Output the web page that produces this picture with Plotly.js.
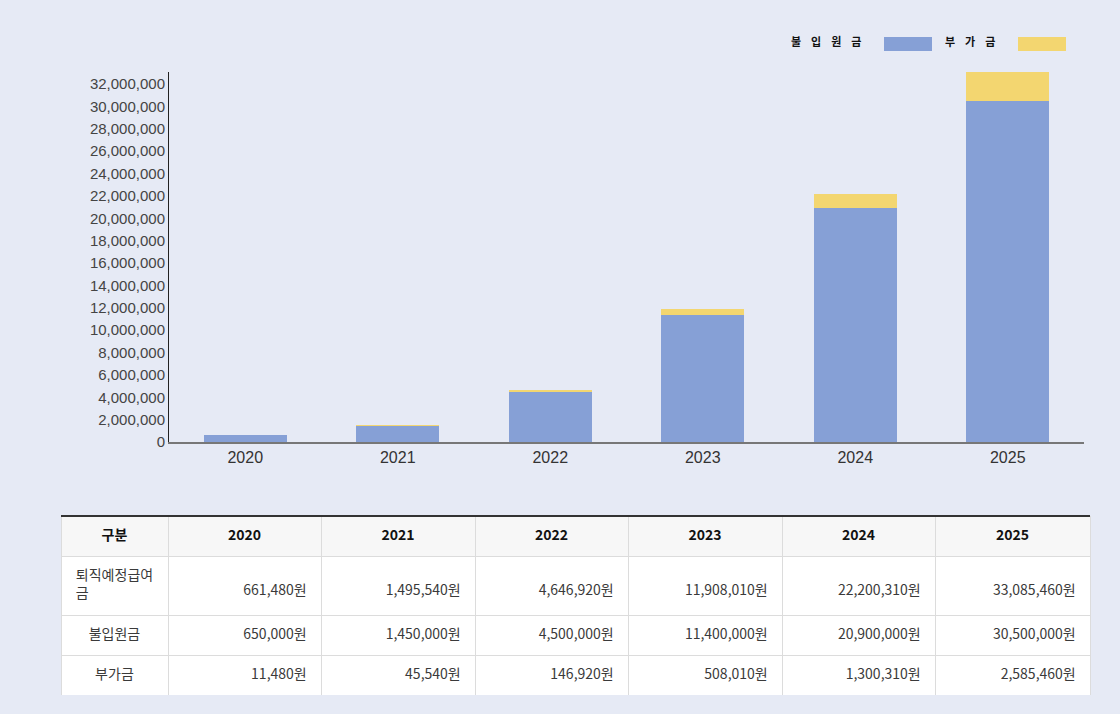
<!DOCTYPE html>
<html>
<head>
<meta charset="utf-8">
<script src="https://cdn.plot.ly/plotly-3.0.1.min.js"></script>
<style>
html,body{margin:0;padding:0;background:#e6eaf5;}
#chart{width:1120px;height:714px;}
</style>
</head>
<body>
<div id="chart"></div>
<script>
// ---- data ----
const years = ['2020', '2021', '2022', '2023', '2024', '2025'];
const seriesNames = ['불입원금', '부가금'];
const principal = [650000, 1450000, 4500000, 11400000, 20900000, 30500000];
const added = [11480, 45540, 146920, 508010, 1300310, 2585460];
const totalLabel = '퇴직예정급여<br>금';
const headerFirst = '구분';
const totalValues = principal.map((v, i) => v + added[i]);

const colors = ['#86a0d6', '#f3d670'];
const bg = '#e6eaf5';

const pad = '\u00a0\u00a0';
const fmt = v => v.toLocaleString('en-US') + '원' + pad;
// vertical nudges for table text (plotly tables top-align text)
const down1 = s => '<br>' + s;
const down2 = s => '<span style="font-size:11px">\u00a0</span><br>' + s;

const traces = [
  {type: 'bar', x: years, y: principal, name: seriesNames[0],
   marker: {color: colors[0]}, hoverinfo: 'skip', xaxis: 'x', yaxis: 'y'},
  {type: 'bar', x: years, y: added, name: seriesNames[1],
   marker: {color: colors[1]}, hoverinfo: 'skip', xaxis: 'x', yaxis: 'y'}
];

const tFont = {family: '"Noto Sans CJK KR", sans-serif', size: 14, color: '#3a3a3a'};
const tLine = {color: '#dcdcdc', width: 1};
const colW = [107, 153, 154, 153, 154, 153, 155];
const alignRow = ['center', 'right', 'right', 'right', 'right', 'right', 'right'];
const xDom = [61/1120, 1090/1120];

// table part 1: header + total row
traces.push({
  type: 'table',
  domain: {x: xDom, y: [97/714, 198/714]},
  columnwidth: colW,
  header: {
    values: ['<b>' + headerFirst + '</b>'].concat(years.map(y => '<b>' + y + '</b>')),
    align: 'center', height: 40,
    fill: {color: '#f7f7f7'}, line: tLine,
    font: {family: tFont.family, size: 14, color: '#111'}
  },
  cells: {
    values: [[totalLabel]].concat(totalValues.map(v => [down2(fmt(v))])),
    align: alignRow, height: 59,
    fill: {color: '#ffffff'}, line: tLine, font: tFont
  }
});

// table part 2: principal + added rows
traces.push({
  type: 'table',
  domain: {x: xDom, y: [19/714, 99/714]},
  columnwidth: colW,
  header: {
    values: [down1(seriesNames[0])].concat(principal.map(v => down1(fmt(v)))),
    align: alignRow, height: 40,
    fill: {color: '#ffffff'}, line: tLine, font: tFont
  },
  cells: {
    values: [[down1(seriesNames[1])]].concat(added.map(v => [down1(fmt(v))])),
    align: alignRow, height: 40,
    fill: {color: '#ffffff'}, line: tLine, font: tFont
  }
});

const sp = s => s.split('').join('\u00a0\u00a0\u00a0\u00a0');

const layout = {
  width: 1120, height: 714,
  margin: {l: 0, r: 0, t: 0, b: 0},
  paper_bgcolor: bg, plot_bgcolor: bg,
  barmode: 'stack',
  bargap: 0.455,
  showlegend: false,
  font: {family: '"Liberation Sans", Arial, sans-serif'},
  xaxis: {
    domain: [169/1120, 1084/1120],
    anchor: 'y',
    showgrid: false, zeroline: false,
    showline: true, linecolor: '#777', linewidth: 2,
    ticks: '',
    tickfont: {size: 16, color: '#333'},
    fixedrange: true
  },
  yaxis: {
    domain: [272/714, 642/714],
    anchor: 'x',
    range: [0, 33085460],
    dtick: 2000000,
    tickformat: ',d',
    showgrid: false, zeroline: false,
    showline: true, linecolor: '#222', linewidth: 1,
    ticks: '',
    tickfont: {size: 15, color: '#444'},
    fixedrange: true
  },
  shapes: [
    {type: 'line', xref: 'paper', yref: 'paper',
     x0: 61/1120, x1: 1090/1120, y0: 198/714, y1: 198/714,
     line: {color: '#333', width: 2}},
    {type: 'rect', xref: 'paper', yref: 'paper',
     x0: 884/1120, x1: 932/1120, y0: (714-51)/714, y1: (714-37)/714,
     fillcolor: colors[0], line: {width: 0}},
    {type: 'rect', xref: 'paper', yref: 'paper',
     x0: 1018/1120, x1: 1066/1120, y0: (714-51)/714, y1: (714-37)/714,
     fillcolor: colors[1], line: {width: 0}}
  ],
  annotations: [
    {xref: 'paper', yref: 'paper', x: 789/1120, y: (714-40.5)/714,
     xanchor: 'left', yanchor: 'middle', showarrow: false,
     text: '<b>' + sp(seriesNames[0]) + '</b>',
     font: {family: '"Noto Sans CJK KR", sans-serif', size: 11, color: '#111'}},
    {xref: 'paper', yref: 'paper', x: 943/1120, y: (714-40.5)/714,
     xanchor: 'left', yanchor: 'middle', showarrow: false,
     text: '<b>' + sp(seriesNames[1]) + '</b>',
     font: {family: '"Noto Sans CJK KR", sans-serif', size: 11, color: '#111'}}
  ]
};

Plotly.newPlot('chart', traces, layout, {displayModeBar: false, staticPlot: true});
</script>
</body>
</html>
